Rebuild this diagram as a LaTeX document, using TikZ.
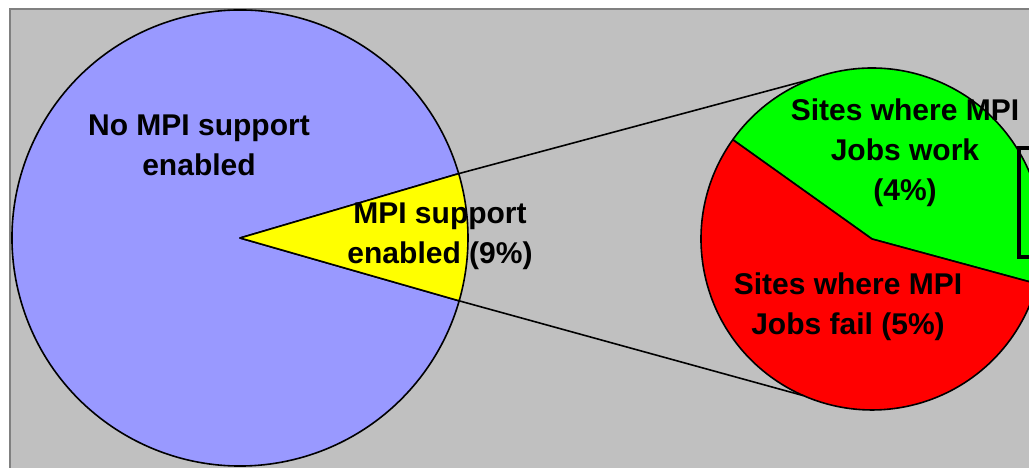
\documentclass[tikz,border=0pt]{standalone}
\usepackage{fontspec}
\setmainfont{Liberation Sans}
\usepackage{tikz}
\usetikzlibrary{calc}
\definecolor{chartgray}{HTML}{C0C0C0}
\definecolor{plotframe}{HTML}{808080}
\definecolor{nompi}{HTML}{9999FF}
\definecolor{mpiyes}{HTML}{FFFF00}
\definecolor{jobsok}{HTML}{00FF00}
\definecolor{jobsbad}{HTML}{FF0000}
\tikzset{
  slice/.style={draw=black, line width=1.6pt, line join=round},
  serline/.style={draw=black, line width=1.6pt},
  pielabel/.style={font=\bfseries\fontsize{30}{40}\selectfont, align=center, inner sep=0pt}
}

\begin{document}
\begin{tikzpicture}[x=1pt,y=1pt]
  \useasboundingbox (0,0) rectangle (1029,468);
  \clip (0,0) rectangle (1029,468);
  % plot area
  \draw[plotframe, line width=2pt, fill=chartgray] (10,459) rectangle (1080,-20);
  % big pie
  \coordinate (bigc) at (240,230);
  \draw[slice, fill=nompi] (bigc) -- ++(16.4:228)
    arc[start angle=16.4, end angle=344, radius=228] -- cycle;
  \draw[slice, fill=mpiyes] (bigc) -- ++(-16:228)
    arc[start angle=-16, end angle=16.4, radius=228] -- cycle;
  % small pie
  \coordinate (smallc) at (872,229);
  \draw[slice, fill=jobsok] (smallc) -- ++(-15.2:171)
    arc[start angle=-15.2, end angle=144.5, radius=171] -- cycle;
  \draw[slice, fill=jobsbad] (smallc) -- ++(144.5:171)
    arc[start angle=144.5, end angle=344.8, radius=171] -- cycle;
  % series lines
  \path (bigc) ++(16.4:228) coordinate (yup)
        (bigc) ++(-16:228) coordinate (ylow)
        (smallc) ++(111:171) coordinate (stop)
        (smallc) ++(246.4:171) coordinate (sbot);
  \draw[serline] (yup) -- (stop);
  \draw[serline] (ylow) -- (sbot);
  % legend (cut off)
  \draw[line width=4pt] (1019,320) rectangle (1080,211);
  % labels
  \node[pielabel] (lnompi) at (199,323) {No MPI support\\enabled};
  \node[pielabel] (lmpi) at (440,232) {MPI support\\enabled (9\%)};
  \node[pielabel] (lok) at (905,315) {Sites where MPI\\Jobs work\\(4\%)};
  \node[pielabel] (lbad) at (848,161) {Sites where MPI\\Jobs fail (5\%)};
\end{tikzpicture}
\end{document}
